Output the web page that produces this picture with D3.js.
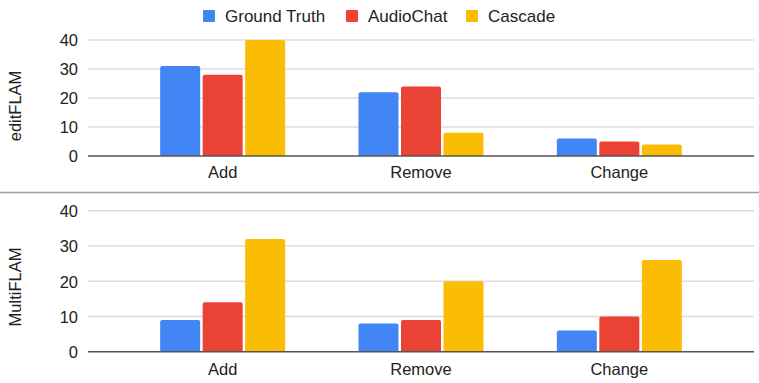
<!DOCTYPE html>
<html>
<head>
<meta charset="utf-8">
<script src="https://cdn.jsdelivr.net/npm/d3@7"></script>
<style>
  body { margin: 0; background: #fff; }
  text { font-family: Arial, "Liberation Sans", sans-serif; }
</style>
</head>
<body>
<div id="wrapper"></div>
<script>
const categories = ['Add', 'Remove', 'Change']
const seriesNames = ['Ground Truth', 'AudioChat', 'Cascade']
const seriesColors = ['#4285F4', '#EA4335', '#FBBC04']
const yTicks = [0, 10, 20, 30, 40]

const editFlamGroundTruth = [31, 22, 6]
const editFlamAudioChat = [28, 24, 5]
const editFlamCascade = [40, 8, 4]

const multiFlamGroundTruth = [9, 8, 6]
const multiFlamAudioChat = [14, 9, 10]
const multiFlamCascade = [32, 20, 26]

const panels = [
    { title: 'editFLAM', series: [editFlamGroundTruth, editFlamAudioChat, editFlamCascade],
      top: 40, bottom: 156, labelY: 178, titleY: 106 },
    { title: 'MultiFLAM', series: [multiFlamGroundTruth, multiFlamAudioChat, multiFlamCascade],
      top: 210.7, bottom: 351.7, labelY: 375, titleY: 287 },
]

const width = 759
const height = 383
const plotLeft = 88
const plotRight = 754

const svg = d3.select('#wrapper')
    .append('svg')
    .attr('width', width)
    .attr('height', height)

// legend
const legendX = [203, 346, 466]
const legend = svg.append('g')
seriesNames.forEach((name, i) => {
    legend.append('rect')
        .attr('x', legendX[i])
        .attr('y', 10)
        .attr('width', 12)
        .attr('height', 12)
        .attr('rx', 1)
        .attr('fill', seriesColors[i])
    legend.append('text')
        .text(name)
        .attr('x', legendX[i] + 22)
        .attr('y', 22)
        .attr('fill', '#222')
        .style('font-size', '17px')
})

// divider between panels
svg.append('line')
    .attr('x1', 0).attr('x2', width)
    .attr('y1', 192.5).attr('y2', 192.5)
    .attr('stroke', '#9e9e9e')
    .attr('stroke-width', 1.5)

const scaleX = d3.scaleBand()
    .domain(categories)
    .range([123.5, 718.5])

const groupWidth = 125
const scaleSeries = d3.scaleBand()
    .domain(seriesNames)
    .range([0, groupWidth])
    .paddingInner(0.0588)

const barPath = (x, y, w, h, r) => {
    r = Math.min(r, h)
    return `M${x},${y + h}V${y + r}Q${x},${y} ${x + r},${y}H${x + w - r}Q${x + w},${y} ${x + w},${y + r}V${y + h}Z`
}

panels.forEach(panel => {
    const scaleY = d3.scaleLinear()
        .domain([0, 40])
        .range([panel.bottom, panel.top])

    const g = svg.append('g')

    // gridlines
    g.append('g').selectAll('line')
        .data(yTicks.filter(d => d !== 0))
        .join('line')
        .attr('x1', plotLeft).attr('x2', plotRight)
        .attr('y1', d => scaleY(d)).attr('y2', d => scaleY(d))
        .attr('stroke', '#dcdcdc')
        .attr('stroke-width', 1.5)

    // y axis labels
    const yAxis = g.append('g')
        .attr('transform', `translate(${plotLeft - 10}, 0)`)
        .call(d3.axisLeft(scaleY).tickValues(yTicks).tickSize(0).tickPadding(0))
    yAxis.select('.domain').remove()
    yAxis.selectAll('text')
        .attr('fill', '#222')
        .style('font-size', '16.5px')
        .attr('dy', '0.36em')

    // bars
    const groups = g.append('g').selectAll('g')
        .data(categories)
        .join('g')
        .attr('transform', d => `translate(${scaleX(d) + scaleX.bandwidth() / 2 - groupWidth / 2}, 0)`)

    groups.selectAll('path')
        .data((d, ci) => seriesNames.map((s, si) => ({ s, si, v: panel.series[si][ci] })))
        .join('path')
        .attr('d', d => {
            const y = scaleY(d.v)
            return barPath(scaleSeries(d.s), y, scaleSeries.bandwidth(), panel.bottom - y, 2)
        })
        .attr('fill', d => seriesColors[d.si])

    // baseline
    g.append('line')
        .attr('x1', plotLeft).attr('x2', plotRight)
        .attr('y1', scaleY(0)).attr('y2', scaleY(0))
        .attr('stroke', '#555')
        .attr('stroke-width', 1.5)

    // x labels
    g.append('g').selectAll('text')
        .data(categories)
        .join('text')
        .text(d => d)
        .attr('x', d => scaleX(d) + scaleX.bandwidth() / 2)
        .attr('y', panel.labelY)
        .attr('fill', '#222')
        .style('font-size', '16.5px')
        .style('text-anchor', 'middle')

    // panel title
    g.append('text')
        .text(panel.title)
        .attr('transform', `translate(21, ${panel.titleY}) rotate(-90)`)
        .attr('fill', '#222')
        .style('font-size', '16.5px')
        .style('text-anchor', 'middle')
})
</script>
</body>
</html>
